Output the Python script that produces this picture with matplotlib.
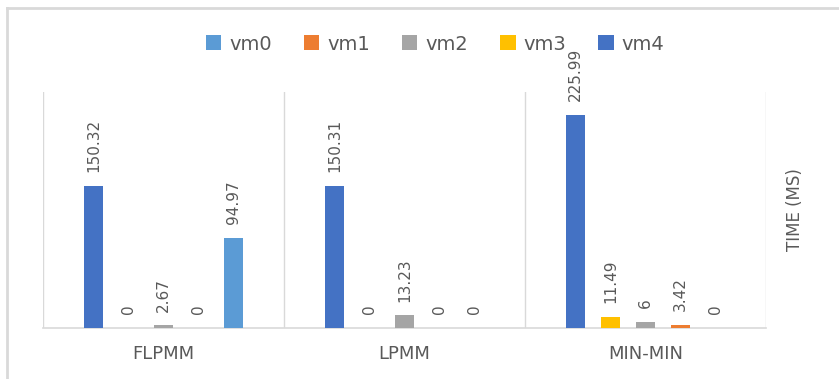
import numpy as np
import matplotlib
matplotlib.use("Agg")
import matplotlib.pyplot as plt
from matplotlib.lines import Line2D
from matplotlib.patches import Patch

# execution time per scheduler, one list per VM
categories = ["FLPMM", "LPMM", "MIN-MIN"]
series_names = ["vm0", "vm1", "vm2", "vm3", "vm4"]
vm0 = [94.97, 0, 0]
vm1 = [0, 0, 3.42]
vm2 = [2.67, 13.23, 6]
vm3 = [0, 0, 11.49]
vm4 = [150.32, 150.31, 225.99]

colors = {"vm0": "#5B9BD5", "vm1": "#ED7D31", "vm2": "#A5A5A5",
          "vm3": "#FFC000", "vm4": "#4472C4"}
values = {"vm0": vm0, "vm1": vm1, "vm2": vm2, "vm3": vm3, "vm4": vm4}

# bars are laid out vm4 first, vm0 last inside each group
draw_order = ["vm4", "vm3", "vm2", "vm1", "vm0"]

grid_col = "#D9D9D9"
text_col = "#595959"

fig = plt.figure(figsize=(8.39, 3.79), dpi=100)
ax = fig.add_axes([0.0513, 0.1346, 0.8617, 0.6227])

x = np.arange(len(categories))
step = 0.145
width = 0.079
for i, name in enumerate(draw_order):
    pos = x + (i - 2) * step
    vals = values[name]
    ax.bar(pos, vals, width, color=colors[name], zorder=3)
    for px, v in zip(pos, vals):
        ax.annotate(f"{v:g}", (px, v), xytext=(0, 10), textcoords="offset points",
                    rotation=90, ha="center", va="bottom", fontsize=11,
                    color=text_col)

ax.set_xlim(-0.5, 2.5)
ax.set_ylim(0, 250)
for sep in np.arange(-0.5, 3, 1):
    ax.axvline(sep, color=grid_col, lw=1, zorder=1)

for side in ["top", "right", "left"]:
    ax.spines[side].set_visible(False)
ax.spines["bottom"].set_color(grid_col)
ax.spines["bottom"].set_linewidth(1.2)
ax.set_yticks([])
ax.set_xticks(x)
ax.set_xticklabels(categories, fontsize=13, color=text_col)
ax.tick_params(axis="x", length=0, pad=12)

fig.text(795 / 839, 1 - 210 / 379, "TIME (MS)", rotation=90, ha="center",
         va="center", fontsize=12, color=text_col)

handles = [Patch(facecolor=colors[n]) for n in series_names]
fig.legend(handles, series_names, loc="center", bbox_to_anchor=(435 / 839, 1 - 44 / 379),
           ncol=5, frameon=False, fontsize=14, handlelength=0.8, handleheight=0.8,
           handletextpad=0.4, columnspacing=1.65, labelcolor=text_col)

# outer chart border (left and top edges)
fig.add_artist(Line2D([7 / 839, 7 / 839], [0, 1 - 8 / 379], transform=fig.transFigure,
                      color=grid_col, lw=2))
fig.add_artist(Line2D([7 / 839, 1], [1 - 8 / 379, 1 - 8 / 379], transform=fig.transFigure,
                      color=grid_col, lw=2))

fig.savefig("out.png", dpi=100)
